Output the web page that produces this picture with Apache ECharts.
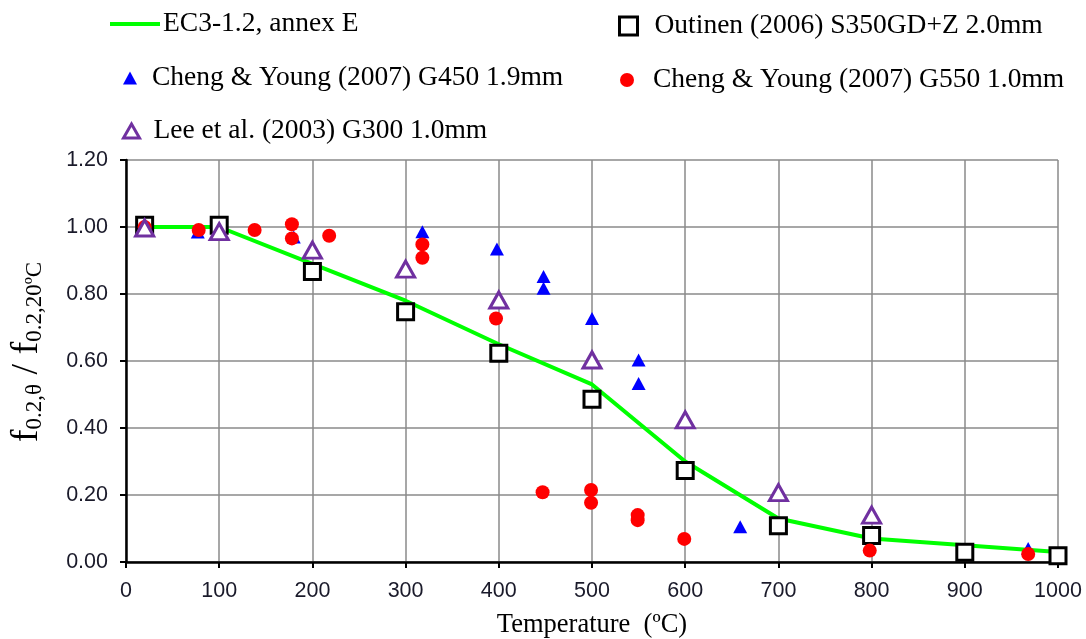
<!DOCTYPE html>
<html>
<head>
<meta charset="utf-8">
<script src="https://cdn.jsdelivr.net/npm/echarts@6/dist/echarts.min.js"></script>
<style>
  html, body { margin: 0; padding: 0; background: #ffffff; }
  #chart { width: 1086px; height: 639px; }
</style>
</head>
<body>
<div id="chart"></div>
<script>
// Reduction factor of the 0.2% proof strength vs temperature (°C)

// EC3-1.2, annex E design curve
const ec3Temp  = [20, 100, 200, 300, 400, 500, 600, 700, 800, 900, 1000];
const ec3Ratio = [1.00, 1.00, 0.89, 0.78, 0.65, 0.53, 0.30, 0.13, 0.07, 0.05, 0.03];

// Outinen (2006) S350GD+Z 2.0mm
const outinenTemp  = [20, 100, 200, 300, 400, 500, 600, 700, 800, 900, 1000];
const outinenRatio = [1.005, 1.005, 0.867, 0.747, 0.623, 0.486, 0.273, 0.108, 0.079, 0.029, 0.019];

// Cheng & Young (2007) G450 1.9mm
const g450Temp  = [20, 77, 180, 318, 398, 448, 448, 500, 550, 550, 659, 968];
const g450Ratio = [1.00, 0.985, 0.970, 0.986, 0.934, 0.852, 0.817, 0.727, 0.603, 0.533, 0.105, 0.040];

// Cheng & Young (2007) G550 1.0mm
const g550Temp  = [20, 78, 138, 178, 178, 218, 318, 318, 397, 447, 499, 499, 549, 549, 599, 798, 968];
const g550Ratio = [1.00, 0.991, 0.991, 1.008, 0.966, 0.974, 0.948, 0.908, 0.727, 0.208, 0.215, 0.177, 0.140, 0.125, 0.069, 0.034, 0.024];

// Lee et al. (2003) G300 1.0mm
const leeTemp  = [20, 100, 200, 300, 400, 500, 600, 700, 800];
const leeRatio = [0.997, 0.986, 0.931, 0.874, 0.782, 0.603, 0.424, 0.207, 0.140];

const seriesNames = [
  'EC3-1.2, annex E',
  'Outinen (2006) S350GD+Z 2.0mm',
  'Cheng & Young (2007) G450 1.9mm',
  'Cheng & Young (2007) G550 1.0mm',
  'Lee et al. (2003) G300 1.0mm'
];

const xTicks = { min: 0, max: 1000, step: 100 };
const yTicks = { min: 0, max: 1.2, step: 0.2 };

function pairs(xs, ys) { return xs.map((x, i) => [x, ys[i]]); }

const serif = 'Liberation Serif';
const sans = 'Liberation Sans';
const legendText = { fontFamily: serif, fontSize: 27.5, color: '#000' };

function legendFor(item, left, top, w, h, pad, extra) {
  return Object.assign({
    data: [item], left: left, top: top, orient: 'horizontal',
    itemWidth: w, itemHeight: h, itemGap: 0, padding: 0,
    selectedMode: false,
    textStyle: Object.assign({ padding: [0, 0, 0, pad] }, legendText)
  }, extra || {});
}

const chart = echarts.init(document.getElementById('chart'), null, { renderer: 'canvas' });

chart.setOption({
  animation: false,
  backgroundColor: '#ffffff',
  grid: { left: 126, right: 28, top: 160, bottom: 77, containLabel: false, outerBoundsMode: 'none' },
  legend: [
    legendFor({ name: seriesNames[0], icon: 'rect' }, 110, 10, 50, 4, -2,
      { itemStyle: { color: '#00ff00', borderWidth: 0 } }),
    legendFor(seriesNames[1], 618, 12, 18, 18, 12, { itemStyle: { borderWidth: 3 } }),
    legendFor(seriesNames[2], 123, 64, 14, 13, 10),
    legendFor(seriesNames[3], 620, 66, 14, 14, 14),
    legendFor(seriesNames[4], 122, 117, 16, 14, 9, { itemStyle: { borderWidth: 3 } })
  ],
  xAxis: {
    type: 'value',
    min: xTicks.min, max: xTicks.max, interval: xTicks.step,
    name: 'Temperature  (ºC)',
    nameLocation: 'middle',
    nameGap: 50,
    nameTextStyle: { fontFamily: serif, fontSize: 26.5, color: '#000' },
    axisLine: { show: true, onZero: false, lineStyle: { color: '#000', width: 2.5 } },
    axisTick: { show: true, length: 6, lineStyle: { color: '#000', width: 2 } },
    axisLabel: {
      fontFamily: sans, fontSize: 21.5, color: '#1a1a2a', margin: 18,
      formatter: v => String(v)
    },
    splitLine: { show: true, lineStyle: { color: '#8a8a8a', width: 1.5 } }
  },
  yAxis: {
    type: 'value',
    min: yTicks.min, max: yTicks.max, interval: yTicks.step,
    name: '{f|f}{s|0.2,θ}{f| / f}{s|0.2,20ºC}',
    nameLocation: 'middle',
    nameRotate: 90,
    nameGap: 80,
    nameTextStyle: {
      fontFamily: serif, color: '#000',
      padding: [0, 0, 0, 18],
      rich: {
        f: { fontFamily: serif, fontSize: 38, color: '#000', verticalAlign: 'bottom' },
        s: { fontFamily: serif, fontSize: 23, color: '#000', verticalAlign: 'bottom' }
      }
    },
    axisLine: { show: true, onZero: false, lineStyle: { color: '#000', width: 2.5 } },
    axisTick: { show: true, length: 6, lineStyle: { color: '#000', width: 2 } },
    axisLabel: {
      fontFamily: sans, fontSize: 21.5, color: '#1a1a2a', margin: 18,
      formatter: v => v.toFixed(2)
    },
    splitLine: { show: true, lineStyle: { color: '#8a8a8a', width: 1.5 } }
  },
  series: [
    {
      name: seriesNames[0], type: 'line',
      data: pairs(ec3Temp, ec3Ratio),
      symbol: 'none', smooth: false,
      lineStyle: { color: '#00ff00', width: 4 },
      itemStyle: { color: '#00ff00' },
      z: 2
    },
    {
      name: seriesNames[1], type: 'scatter',
      data: pairs(outinenTemp, outinenRatio),
      symbol: 'rect', symbolSize: 16,
      itemStyle: { color: '#ffffff', borderColor: '#000000', borderWidth: 3, opacity: 1 },
      z: 3
    },
    {
      name: seriesNames[2], type: 'scatter',
      data: pairs(g450Temp, g450Ratio),
      symbol: 'triangle', symbolSize: [14, 13],
      itemStyle: { color: '#0000ff', opacity: 1 },
      z: 4
    },
    {
      name: seriesNames[3], type: 'scatter',
      data: pairs(g550Temp, g550Ratio),
      symbol: 'circle', symbolSize: 14,
      itemStyle: { color: '#ff0000', opacity: 1 },
      z: 5
    },
    {
      name: seriesNames[4], type: 'scatter',
      data: pairs(leeTemp, leeRatio),
      symbol: 'triangle', symbolSize: [18, 16],
      itemStyle: { color: '#ffffff', borderColor: '#7030a0', borderWidth: 3, opacity: 1 },
      z: 6
    }
  ]
});
</script>
</body>
</html>
